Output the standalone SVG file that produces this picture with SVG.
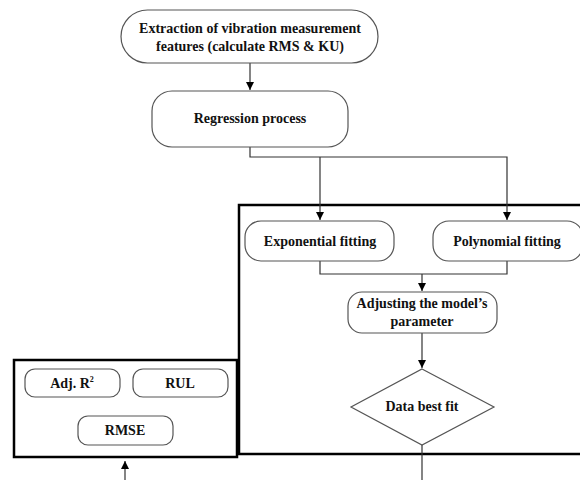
<svg xmlns="http://www.w3.org/2000/svg" width="580" height="480" viewBox="0 0 580 480">
<style>
.node{fill:#fff;stroke:#555;stroke-width:1.2}
.frame{fill:none;stroke:#000;stroke-width:2.5}
.conn{fill:none;stroke:#333;stroke-width:1.2}
text{font-family:"Liberation Serif","Times New Roman",serif;font-weight:bold;font-size:14px;fill:#111;text-anchor:middle}
</style>
<defs>
<marker id="ah" viewBox="0 0 10 10" refX="10" refY="5" markerWidth="8" markerHeight="10" markerUnits="userSpaceOnUse" orient="auto">
<path d="M0,0 L10,5 L0,10 Z" fill="#000"/>
</marker>
</defs>
<rect class="frame" x="239" y="205" width="345" height="249"/>
<rect class="frame" x="14" y="360" width="223" height="97"/>
<g id="connectors">
<path class="conn" d="M250,63 V90" marker-end="url(#ah)"/>
<path class="conn" d="M250,147 V157 H507 V220" marker-end="url(#ah)"/>
<path class="conn" d="M320,157 V220" marker-end="url(#ah)"/>
<path class="conn" d="M320,261 V274 H507 V261"/>
<path class="conn" d="M422,274 V291" marker-end="url(#ah)"/>
<path class="conn" d="M422,333 V368" marker-end="url(#ah)"/>
<path class="conn" d="M422,445 V480"/>
<path class="conn" d="M125,480 V461" marker-end="url(#ah)"/>
</g>
<g id="extraction">
<rect class="node" x="121" y="10" width="257" height="53" rx="26.5"/>
<text x="250" y="33">Extraction of vibration measurement</text>
<text x="250" y="51">features (calculate RMS &amp; KU)</text>
</g>
<g id="regression">
<rect class="node" x="152" y="91" width="196" height="56" rx="20"/>
<text x="250" y="123">Regression process</text>
</g>
<g id="exponential">
<rect class="node" x="245" y="221" width="149" height="40" rx="16"/>
<text x="320" y="246">Exponential fitting</text>
</g>
<g id="polynomial">
<rect class="node" x="433" y="221" width="150" height="40" rx="16"/>
<text x="507" y="246">Polynomial fitting</text>
</g>
<g id="adjusting">
<rect class="node" x="348" y="292" width="149" height="41" rx="14"/>
<text x="422" y="308">Adjusting the model’s</text>
<text x="422" y="326">parameter</text>
</g>
<g id="bestfit">
<polygon class="node" points="422,369 494,407 422,445 351,407"/>
<text x="422" y="411">Data best fit</text>
</g>
<g id="adjr2">
<rect class="node" x="25" y="369" width="95" height="28" rx="10"/>
<text x="72" y="388">Adj. R<tspan font-size="8" dy="-6">2</tspan></text>
</g>
<g id="rul">
<rect class="node" x="133" y="369" width="95" height="28" rx="10"/>
<text x="180" y="388">RUL</text>
</g>
<g id="rmse">
<rect class="node" x="78" y="416" width="95" height="29" rx="10"/>
<text x="125" y="435">RMSE</text>
</g>
</svg>
